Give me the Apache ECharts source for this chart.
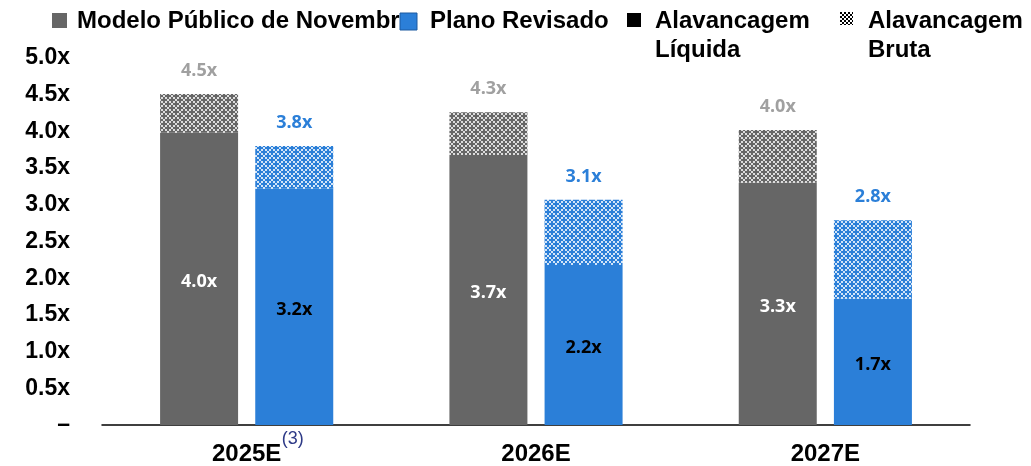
<!DOCTYPE html>
<html>
<head>
<meta charset="utf-8">
<script src="https://cdn.jsdelivr.net/npm/echarts@6/dist/echarts.min.js"></script>
<style>
html,body{margin:0;padding:0;background:#fff;}
#chart{width:1031px;height:466px;}
</style>
</head>
<body>
<div id="chart"></div>
<script>
// ---- data ----
var categories = ['2025E', '2026E', '2027E'];
var categorySup = ['(3)', '', ''];
var modeloLiquida = [3.98, 3.68, 3.30];
var modeloBruta = [4.51, 4.26, 4.02];
var planoLiquida = [3.22, 2.18, 1.72];
var planoBruta = [3.80, 3.07, 2.79];
var yTicks = [0, 0.5, 1.0, 1.5, 2.0, 2.5, 3.0, 3.5, 4.0, 4.5, 5.0];
var legendNames = ['Modelo Público de Novembro', 'Plano Revisado', 'Alavancagem\nLíquida', 'Alavancagem\nBruta'];

// ---- styles ----
var GREY = '#666666';
var BLUE = '#2B7FD8';

function makePattern(base, light) {
  var c = document.createElement('canvas');
  c.width = 8; c.height = 8;
  var g = c.getContext('2d');
  g.fillStyle = light; g.fillRect(0, 0, 8, 8);
  g.fillStyle = base;
  function plus(cx, cy) {
    g.fillRect(cx - 1, cy - 3, 2, 6);
    g.fillRect(cx - 3, cy - 1, 6, 2);
  }
  plus(4, 4); plus(0, 0); plus(8, 0); plus(0, 8); plus(8, 8);
  return c;
}
function makeChecker() {
  var c = document.createElement('canvas');
  c.width = 4; c.height = 4;
  var g = c.getContext('2d');
  g.fillStyle = '#ffffff'; g.fillRect(0, 0, 4, 4);
  g.fillStyle = '#000000';
  g.fillRect(0, 0, 2, 2); g.fillRect(2, 2, 2, 2);
  return c;
}
var greyPat = makePattern(GREY, '#dcdcdc');
var bluePat = makePattern(BLUE, '#d2e4f8');
var checker = makeChecker();

function diff(a, b) { return a.map(function (v, i) { return +(b[i] - v).toFixed(3); }); }

var labelFont = '"Open Sans", sans-serif';
var axisFont = '"Liberation Sans", Arial, sans-serif';

var chart = echarts.init(document.getElementById('chart'), null, {renderer: 'canvas'});

var legendFont = 'bold 24px "Liberation Sans", Arial, sans-serif';
var graphics = [
  {type: 'rect', shape: {x: 52, y: 13, width: 15, height: 15}, style: {fill: GREY}},
  {type: 'text', x: 77, y: 21, style: {text: legendNames[0], font: legendFont, fill: '#000', verticalAlign: 'middle'}},
  {type: 'rect', z: 10, shape: {x: 400, y: 13, width: 17, height: 17}, style: {fill: BLUE, stroke: '#1d5aa0', lineWidth: 1}},
  {type: 'text', x: 430, y: 21, style: {text: legendNames[1], font: legendFont, fill: '#000', verticalAlign: 'middle'}},
  {type: 'rect', shape: {x: 627, y: 13, width: 14, height: 14}, style: {fill: '#000'}},
  {type: 'text', x: 655, y: 7, style: {text: legendNames[2], font: legendFont, fill: '#000', verticalAlign: 'top', lineHeight: 29}},
  {type: 'rect', shape: {x: 840, y: 12, width: 13, height: 13}, style: {fill: {image: checker, repeat: 'repeat'}}},
  {type: 'text', x: 868, y: 7, style: {text: legendNames[3], font: legendFont, fill: '#000', verticalAlign: 'top', lineHeight: 29}}
];

var option = {
  backgroundColor: '#fff',
  animation: false,
  grid: {left: 102, right: 61, top: 58, bottom: 41, containLabel: false, outerBoundsMode: 'none'},
  graphic: graphics,
  xAxis: [
    {
      type: 'category',
      data: categories,
      axisLine: {show: true, lineStyle: {color: '#000', width: 1.5}},
      axisTick: {show: false},
      axisLabel: {
        margin: 17,
        fontFamily: axisFont, fontWeight: 'bold', fontSize: 24, color: '#000'
      }
    },
    {
      type: 'category',
      position: 'bottom',
      data: categories,
      axisLine: {show: false},
      axisTick: {show: false},
      axisLabel: {
        margin: 5,
        formatter: function (v, i) { return categorySup[i] ? '{s|' + categorySup[i] + '}' : ''; },
        rich: {
          s: {fontFamily: axisFont, fontSize: 18, color: '#2E3A87', padding: [0, 0, 0, 92]}
        }
      }
    }
  ],
  yAxis: {
    type: 'value',
    min: 0, max: 5, interval: 0.5,
    axisLine: {show: false},
    axisTick: {show: false},
    splitLine: {show: false},
    axisLabel: {
      margin: 32,
      fontFamily: axisFont, fontWeight: 'bold', fontSize: 23, color: '#000',
      formatter: function (v) { return v === 0 ? '–' : v.toFixed(1) + 'x'; }
    }
  },
  series: [
    {
      name: 'modeloLiquida', type: 'bar', stack: 'm', barWidth: 78, barGap: '22%',
      data: modeloLiquida,
      itemStyle: {color: GREY},
      label: {show: true, position: 'inside', offset: [0, 3], color: '#fff', fontFamily: labelFont, fontWeight: 'bold', fontSize: 18,
        formatter: function (p) { return modeloLiquida[p.dataIndex].toFixed(1) + 'x'; }}
    },
    {
      name: 'modeloBruta', type: 'bar', stack: 'm', barWidth: 78, barGap: '22%',
      data: diff(modeloLiquida, modeloBruta),
      itemStyle: {color: {image: greyPat, repeat: 'repeat'}},
      label: {show: true, position: 'top', distance: 14, color: '#A0A0A0', fontFamily: labelFont, fontWeight: 'bold', fontSize: 18,
        formatter: function (p) { return modeloBruta[p.dataIndex].toFixed(1) + 'x'; }}
    },
    {
      name: 'planoLiquida', type: 'bar', stack: 'p', barWidth: 78, barGap: '22%',
      data: planoLiquida,
      itemStyle: {color: BLUE},
      label: {show: true, position: 'inside', offset: [0, 3], color: '#000', fontFamily: labelFont, fontWeight: 'bold', fontSize: 18,
        formatter: function (p) { return planoLiquida[p.dataIndex].toFixed(1) + 'x'; }}
    },
    {
      name: 'planoBruta', type: 'bar', stack: 'p', barWidth: 78, barGap: '22%',
      data: diff(planoLiquida, planoBruta),
      itemStyle: {color: {image: bluePat, repeat: 'repeat'}},
      label: {show: true, position: 'top', distance: 14, color: BLUE, fontFamily: labelFont, fontWeight: 'bold', fontSize: 18,
        formatter: function (p) { return planoBruta[p.dataIndex].toFixed(1) + 'x'; }}
    }
  ]
};
chart.setOption(option);
</script>
</body>
</html>
